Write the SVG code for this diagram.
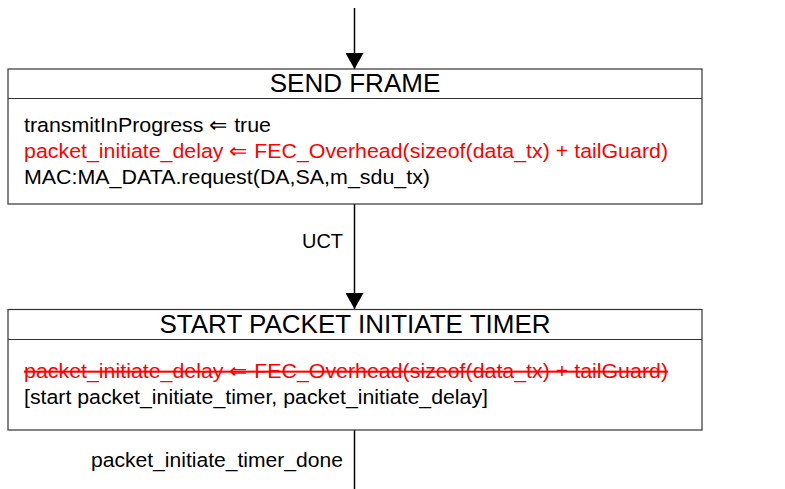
<svg xmlns="http://www.w3.org/2000/svg" width="785" height="489" viewBox="0 0 785 489">
<defs>
<style>
.box{fill:#fff;stroke:#333;stroke-width:1.2}
.t{font-family:"Liberation Sans",Arial,sans-serif;font-size:20.5px;fill:#000}
.title{font-family:"Liberation Sans",Arial,sans-serif;font-size:26px;fill:#000;text-anchor:middle}
.red{fill:#ff0000}
.strike{text-decoration:line-through}
.edge{stroke:#000;stroke-width:1.5;fill:none}
</style>
<marker id="ah" viewBox="0 0 16 18" refX="16" refY="9" markerWidth="16" markerHeight="18" markerUnits="userSpaceOnUse" orient="auto">
<path d="M0,0 L16,9 L0,18 Z" fill="#000"/>
</marker>
</defs>
<g id="connectors">
<line class="edge" x1="354.5" y1="8" x2="354.5" y2="69" marker-end="url(#ah)"/>
<line class="edge" x1="354.5" y1="204" x2="354.5" y2="309" marker-end="url(#ah)"/>
<text class="t" x="343" y="248" text-anchor="end" textLength="41" lengthAdjust="spacingAndGlyphs">UCT</text>
<line class="edge" x1="354.5" y1="430" x2="354.5" y2="489"/>
<text class="t" x="343" y="467" text-anchor="end" textLength="252" lengthAdjust="spacingAndGlyphs">packet_initiate_timer_done</text>
</g>
<g id="send_frame">
<rect class="box" x="8" y="69" width="694" height="135"/>
<line class="box" x1="8" y1="98.5" x2="702" y2="98.5"/>
<text class="title" x="355" y="92">SEND FRAME</text>
<text class="t" x="24" y="132" textLength="247" lengthAdjust="spacingAndGlyphs">transmitInProgress ⇐ true</text>
<text class="t red" x="24" y="158" textLength="644" lengthAdjust="spacingAndGlyphs">packet_initiate_delay ⇐ FEC_Overhead(sizeof(data_tx) + tailGuard)</text>
<text class="t" x="24" y="184" textLength="406" lengthAdjust="spacingAndGlyphs">MAC:MA_DATA.request(DA,SA,m_sdu_tx)</text>
</g>
<g id="start_packet_initiate_timer">
<rect class="box" x="8" y="309.5" width="694" height="120.5"/>
<line class="box" x1="8" y1="339.5" x2="702" y2="339.5"/>
<text class="title" x="355" y="333">START PACKET INITIATE TIMER</text>
<text class="t red strike" x="24" y="378" textLength="644" lengthAdjust="spacingAndGlyphs">packet_initiate_delay ⇐ FEC_Overhead(sizeof(data_tx) + tailGuard)</text>
<text class="t" x="24" y="404" textLength="464" lengthAdjust="spacingAndGlyphs">[start packet_initiate_timer, packet_initiate_delay]</text>
</g>
</svg>
